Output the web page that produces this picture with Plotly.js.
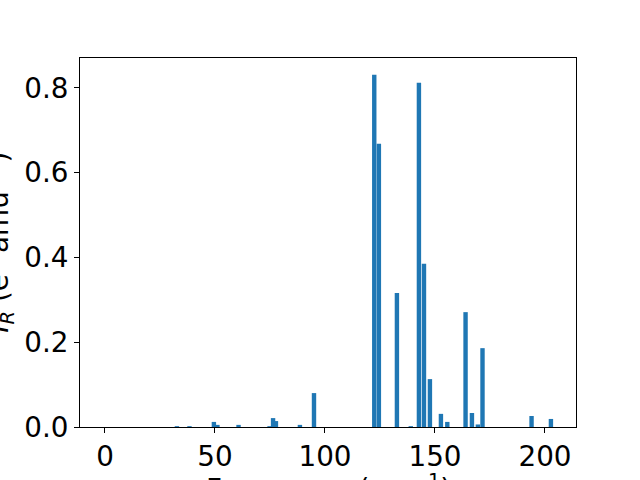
<!DOCTYPE html>
<html>
<head>
<meta charset="utf-8">
<script src="https://cdn.plot.ly/plotly-3.0.1.min.js"></script>
<style>html,body{margin:0;padding:0;background:#fff;}#chart{width:640px;height:480px;}</style>
</head>
<body>
<div id="chart"></div>
<script>
const frequencies = [32.7, 38.4, 49.5, 51.1, 60.7, 74.8, 76.4, 77.7, 88.6, 95.0, 122.4, 124.5, 132.7, 139.0, 142.7, 145.0, 147.7, 152.7, 155.6, 163.9, 166.8, 169.5, 171.6, 193.9, 202.7];
const intensities = [0.002, 0.002, 0.012, 0.005, 0.005, 0.002, 0.021, 0.014, 0.005, 0.080, 0.831, 0.668, 0.316, 0.002, 0.812, 0.385, 0.113, 0.031, 0.012, 0.271, 0.033, 0.006, 0.186, 0.026, 0.019];
const xTicks = [0, 50, 100, 150, 200];
const yTicks = [0.0, 0.2, 0.4, 0.6, 0.8];
const xLabel = 'Frequency (cm<sup>−1</sup>)';
const yLabel = '<i>I</i><sub><i>R</i></sub> (e<sup>2</sup> amu<sup>−1</sup>)';

const font = {family: 'DejaVu Sans', size: 27.8, color: '#000'};

const trace = {
  type: 'bar',
  x: frequencies,
  y: intensities,
  width: 2,
  marker: {color: '#1f77b4', line: {width: 0}}
};

const layout = {
  width: 640, height: 480,
  margin: {l: 80, r: 64, t: 58, b: 53, pad: 0},
  paper_bgcolor: '#fff', plot_bgcolor: '#fff',
  showlegend: false,
  font: font,
  xaxis: {
    range: [-11.36, 214.1],
    tickmode: 'array', tickvals: xTicks, ticktext: xTicks.map(String),
    ticks: 'outside', ticklen: 5, tickwidth: 1, tickcolor: '#000',
    showline: true, linecolor: '#000', linewidth: 1, mirror: true,
    showgrid: false, zeroline: false,
    tickfont: font
  },
  yaxis: {
    range: [0, 0.8706],
    tickmode: 'array', tickvals: yTicks, ticktext: yTicks.map(v => v.toFixed(1)),
    ticks: 'outside', ticklen: 5, tickwidth: 1, tickcolor: '#000',
    showline: true, linecolor: '#000', linewidth: 1, mirror: true,
    showgrid: false, zeroline: false,
    tickfont: font
  },
  annotations: [
    {text: xLabel, xref: 'paper', yref: 'paper', x: 0.5, y: -0.109, xanchor: 'center', yanchor: 'top', showarrow: false, font: font},
    {text: yLabel, xref: 'paper', yref: 'paper', x: -0.163, y: 0.5, xanchor: 'center', yanchor: 'middle', textangle: -90, showarrow: false, font: font}
  ]
};

Plotly.newPlot('chart', [trace], layout, {displayModeBar: false, staticPlot: true});
</script>
</body>
</html>
